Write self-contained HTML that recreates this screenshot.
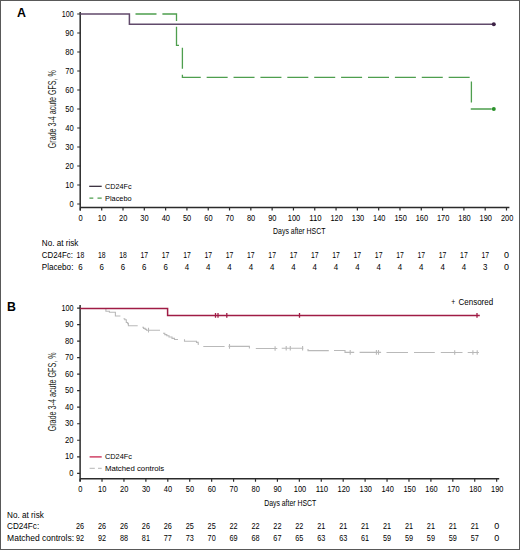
<!DOCTYPE html>
<html><head><meta charset="utf-8"><style>
html,body{margin:0;padding:0;background:#fff;}
body{width:520px;height:550px;overflow:hidden;}
svg{display:block;font-family:"Liberation Sans", sans-serif;}
</style></head><body>
<svg width="520" height="550" viewBox="0 0 520 550" font-family='"Liberation Sans", sans-serif'>
<rect x="0" y="0" width="520" height="550" fill="#fff"/>
<rect x="0.5" y="0.5" width="519" height="549" fill="none" stroke="#595959" stroke-width="1"/>
<text x="16.90" y="16.80" font-size="12.4" font-weight="bold" fill="#000">A</text>
<path d="M80.2,12 V210.5 M80.2,207.5 H509.4" stroke="#2b2b2b" stroke-width="1.5" fill="none"/>
<path d="M77.2,204.00 H80.2 M77.2,185.00 H80.2 M77.2,166.00 H80.2 M77.2,147.00 H80.2 M77.2,128.00 H80.2 M77.2,109.00 H80.2 M77.2,90.00 H80.2 M77.2,71.00 H80.2 M77.2,52.00 H80.2 M77.2,33.00 H80.2 M77.2,14.00 H80.2 M80.40,207.5 V210.5 M101.71,207.5 V210.5 M123.01,207.5 V210.5 M144.31,207.5 V210.5 M165.62,207.5 V210.5 M186.93,207.5 V210.5 M208.23,207.5 V210.5 M229.53,207.5 V210.5 M250.84,207.5 V210.5 M272.14,207.5 V210.5 M293.45,207.5 V210.5 M314.75,207.5 V210.5 M336.06,207.5 V210.5 M357.37,207.5 V210.5 M378.67,207.5 V210.5 M399.98,207.5 V210.5 M421.28,207.5 V210.5 M442.59,207.5 V210.5 M463.89,207.5 V210.5 M485.20,207.5 V210.5 M506.50,207.5 V210.5 " stroke="#2b2b2b" stroke-width="1.2" fill="none"/>
<text x="73.80" y="207.10" font-size="9.0" text-anchor="end" textLength="4.20" lengthAdjust="spacingAndGlyphs">0</text>
<text x="73.80" y="188.10" font-size="9.0" text-anchor="end" textLength="8.50" lengthAdjust="spacingAndGlyphs">10</text>
<text x="73.80" y="169.10" font-size="9.0" text-anchor="end" textLength="8.50" lengthAdjust="spacingAndGlyphs">20</text>
<text x="73.80" y="150.10" font-size="9.0" text-anchor="end" textLength="8.50" lengthAdjust="spacingAndGlyphs">30</text>
<text x="73.80" y="131.10" font-size="9.0" text-anchor="end" textLength="8.50" lengthAdjust="spacingAndGlyphs">40</text>
<text x="73.80" y="112.10" font-size="9.0" text-anchor="end" textLength="8.50" lengthAdjust="spacingAndGlyphs">50</text>
<text x="73.80" y="93.10" font-size="9.0" text-anchor="end" textLength="8.50" lengthAdjust="spacingAndGlyphs">60</text>
<text x="73.80" y="74.10" font-size="9.0" text-anchor="end" textLength="8.50" lengthAdjust="spacingAndGlyphs">70</text>
<text x="73.80" y="55.10" font-size="9.0" text-anchor="end" textLength="8.50" lengthAdjust="spacingAndGlyphs">80</text>
<text x="73.80" y="36.10" font-size="9.0" text-anchor="end" textLength="8.50" lengthAdjust="spacingAndGlyphs">90</text>
<text x="73.80" y="17.10" font-size="9.0" text-anchor="end" textLength="12.00" lengthAdjust="spacingAndGlyphs">100</text>
<text x="80.60" y="220.60" font-size="9.0" text-anchor="middle" textLength="4.20" lengthAdjust="spacingAndGlyphs">0</text>
<text x="101.91" y="220.60" font-size="9.0" text-anchor="middle" textLength="8.30" lengthAdjust="spacingAndGlyphs">10</text>
<text x="123.21" y="220.60" font-size="9.0" text-anchor="middle" textLength="8.30" lengthAdjust="spacingAndGlyphs">20</text>
<text x="144.51" y="220.60" font-size="9.0" text-anchor="middle" textLength="8.30" lengthAdjust="spacingAndGlyphs">30</text>
<text x="165.82" y="220.60" font-size="9.0" text-anchor="middle" textLength="8.30" lengthAdjust="spacingAndGlyphs">40</text>
<text x="187.12" y="220.60" font-size="9.0" text-anchor="middle" textLength="8.30" lengthAdjust="spacingAndGlyphs">50</text>
<text x="208.43" y="220.60" font-size="9.0" text-anchor="middle" textLength="8.30" lengthAdjust="spacingAndGlyphs">60</text>
<text x="229.73" y="220.60" font-size="9.0" text-anchor="middle" textLength="8.30" lengthAdjust="spacingAndGlyphs">70</text>
<text x="251.04" y="220.60" font-size="9.0" text-anchor="middle" textLength="8.30" lengthAdjust="spacingAndGlyphs">80</text>
<text x="272.34" y="220.60" font-size="9.0" text-anchor="middle" textLength="8.30" lengthAdjust="spacingAndGlyphs">90</text>
<text x="294.05" y="220.60" font-size="9.0" text-anchor="middle" textLength="12.40" lengthAdjust="spacingAndGlyphs">100</text>
<text x="315.36" y="220.60" font-size="9.0" text-anchor="middle" textLength="12.40" lengthAdjust="spacingAndGlyphs">110</text>
<text x="336.66" y="220.60" font-size="9.0" text-anchor="middle" textLength="12.40" lengthAdjust="spacingAndGlyphs">120</text>
<text x="357.97" y="220.60" font-size="9.0" text-anchor="middle" textLength="12.40" lengthAdjust="spacingAndGlyphs">130</text>
<text x="379.27" y="220.60" font-size="9.0" text-anchor="middle" textLength="12.40" lengthAdjust="spacingAndGlyphs">140</text>
<text x="400.58" y="220.60" font-size="9.0" text-anchor="middle" textLength="12.40" lengthAdjust="spacingAndGlyphs">150</text>
<text x="421.88" y="220.60" font-size="9.0" text-anchor="middle" textLength="12.40" lengthAdjust="spacingAndGlyphs">160</text>
<text x="443.19" y="220.60" font-size="9.0" text-anchor="middle" textLength="12.40" lengthAdjust="spacingAndGlyphs">170</text>
<text x="464.49" y="220.60" font-size="9.0" text-anchor="middle" textLength="12.40" lengthAdjust="spacingAndGlyphs">180</text>
<text x="485.80" y="220.60" font-size="9.0" text-anchor="middle" textLength="12.40" lengthAdjust="spacingAndGlyphs">190</text>
<text x="507.10" y="220.60" font-size="9.0" text-anchor="middle" textLength="12.40" lengthAdjust="spacingAndGlyphs">200</text>
<text x="273.10" y="234.00" font-size="9.8" textLength="52.30" lengthAdjust="spacingAndGlyphs">Days after HSCT</text>
<text transform="translate(55.9,148.15) rotate(-90)" x="0" y="0" font-size="10" textLength="78" lengthAdjust="spacingAndGlyphs" fill="#231f20">Grade 3-4 acute GFS, %</text>
<path d="M130,14 H176.5 V45.3 H182.4 V77.3 H471.4 V109 H493.8" stroke="#4e9e4e" stroke-width="1.3" fill="none" stroke-dasharray="21 5.89" stroke-dashoffset="21.39"/>
<path d="M80.2,14 H129.4 V24.2 H493.8" stroke="#614a6b" stroke-width="1.5" fill="none"/>
<circle cx="493.8" cy="24.2" r="2" fill="#3d2347"/>
<circle cx="493.8" cy="109" r="2" fill="#2a922a"/>
<path d="M89.2,186.3 H101.7" stroke="#2a1f2e" stroke-width="1.2"/>
<path d="M89.4,198.1 H93.3 M97.5,198.1 H101.7" stroke="#4e9e4e" stroke-width="1.2"/>
<text x="105.10" y="189.30" font-size="7.8" textLength="26.50" lengthAdjust="spacingAndGlyphs">CD24Fc</text>
<text x="105.10" y="201.00" font-size="7.8" textLength="26.50" lengthAdjust="spacingAndGlyphs">Placebo</text>
<text x="41.80" y="246.00" font-size="9.0" textLength="36.60" lengthAdjust="spacingAndGlyphs">No. at risk</text>
<text x="41.80" y="257.60" font-size="9.0" textLength="31.20" lengthAdjust="spacingAndGlyphs">CD24Fc:</text>
<text x="41.80" y="269.50" font-size="9.0" textLength="31.60" lengthAdjust="spacingAndGlyphs">Placebo:</text>
<text x="80.40" y="257.60" font-size="9.0" text-anchor="middle" textLength="7.60" lengthAdjust="spacingAndGlyphs">18</text>
<text x="80.40" y="269.50" font-size="9.0" text-anchor="middle" textLength="4.40" lengthAdjust="spacingAndGlyphs">6</text>
<text x="101.71" y="257.60" font-size="9.0" text-anchor="middle" textLength="7.60" lengthAdjust="spacingAndGlyphs">18</text>
<text x="101.71" y="269.50" font-size="9.0" text-anchor="middle" textLength="4.40" lengthAdjust="spacingAndGlyphs">6</text>
<text x="123.01" y="257.60" font-size="9.0" text-anchor="middle" textLength="7.60" lengthAdjust="spacingAndGlyphs">18</text>
<text x="123.01" y="269.50" font-size="9.0" text-anchor="middle" textLength="4.40" lengthAdjust="spacingAndGlyphs">6</text>
<text x="144.31" y="257.60" font-size="9.0" text-anchor="middle" textLength="7.60" lengthAdjust="spacingAndGlyphs">17</text>
<text x="144.31" y="269.50" font-size="9.0" text-anchor="middle" textLength="4.40" lengthAdjust="spacingAndGlyphs">6</text>
<text x="165.62" y="257.60" font-size="9.0" text-anchor="middle" textLength="7.60" lengthAdjust="spacingAndGlyphs">17</text>
<text x="165.62" y="269.50" font-size="9.0" text-anchor="middle" textLength="4.40" lengthAdjust="spacingAndGlyphs">6</text>
<text x="186.93" y="257.60" font-size="9.0" text-anchor="middle" textLength="7.60" lengthAdjust="spacingAndGlyphs">17</text>
<text x="186.93" y="269.50" font-size="9.0" text-anchor="middle" textLength="4.40" lengthAdjust="spacingAndGlyphs">4</text>
<text x="208.23" y="257.60" font-size="9.0" text-anchor="middle" textLength="7.60" lengthAdjust="spacingAndGlyphs">17</text>
<text x="208.23" y="269.50" font-size="9.0" text-anchor="middle" textLength="4.40" lengthAdjust="spacingAndGlyphs">4</text>
<text x="229.53" y="257.60" font-size="9.0" text-anchor="middle" textLength="7.60" lengthAdjust="spacingAndGlyphs">17</text>
<text x="229.53" y="269.50" font-size="9.0" text-anchor="middle" textLength="4.40" lengthAdjust="spacingAndGlyphs">4</text>
<text x="250.84" y="257.60" font-size="9.0" text-anchor="middle" textLength="7.60" lengthAdjust="spacingAndGlyphs">17</text>
<text x="250.84" y="269.50" font-size="9.0" text-anchor="middle" textLength="4.40" lengthAdjust="spacingAndGlyphs">4</text>
<text x="272.14" y="257.60" font-size="9.0" text-anchor="middle" textLength="7.60" lengthAdjust="spacingAndGlyphs">17</text>
<text x="272.14" y="269.50" font-size="9.0" text-anchor="middle" textLength="4.40" lengthAdjust="spacingAndGlyphs">4</text>
<text x="293.45" y="257.60" font-size="9.0" text-anchor="middle" textLength="7.60" lengthAdjust="spacingAndGlyphs">17</text>
<text x="293.45" y="269.50" font-size="9.0" text-anchor="middle" textLength="4.40" lengthAdjust="spacingAndGlyphs">4</text>
<text x="314.75" y="257.60" font-size="9.0" text-anchor="middle" textLength="7.60" lengthAdjust="spacingAndGlyphs">17</text>
<text x="314.75" y="269.50" font-size="9.0" text-anchor="middle" textLength="4.40" lengthAdjust="spacingAndGlyphs">4</text>
<text x="336.06" y="257.60" font-size="9.0" text-anchor="middle" textLength="7.60" lengthAdjust="spacingAndGlyphs">17</text>
<text x="336.06" y="269.50" font-size="9.0" text-anchor="middle" textLength="4.40" lengthAdjust="spacingAndGlyphs">4</text>
<text x="357.37" y="257.60" font-size="9.0" text-anchor="middle" textLength="7.60" lengthAdjust="spacingAndGlyphs">17</text>
<text x="357.37" y="269.50" font-size="9.0" text-anchor="middle" textLength="4.40" lengthAdjust="spacingAndGlyphs">4</text>
<text x="378.67" y="257.60" font-size="9.0" text-anchor="middle" textLength="7.60" lengthAdjust="spacingAndGlyphs">17</text>
<text x="378.67" y="269.50" font-size="9.0" text-anchor="middle" textLength="4.40" lengthAdjust="spacingAndGlyphs">4</text>
<text x="399.98" y="257.60" font-size="9.0" text-anchor="middle" textLength="7.60" lengthAdjust="spacingAndGlyphs">17</text>
<text x="399.98" y="269.50" font-size="9.0" text-anchor="middle" textLength="4.40" lengthAdjust="spacingAndGlyphs">4</text>
<text x="421.28" y="257.60" font-size="9.0" text-anchor="middle" textLength="7.60" lengthAdjust="spacingAndGlyphs">17</text>
<text x="421.28" y="269.50" font-size="9.0" text-anchor="middle" textLength="4.40" lengthAdjust="spacingAndGlyphs">4</text>
<text x="442.59" y="257.60" font-size="9.0" text-anchor="middle" textLength="7.60" lengthAdjust="spacingAndGlyphs">17</text>
<text x="442.59" y="269.50" font-size="9.0" text-anchor="middle" textLength="4.40" lengthAdjust="spacingAndGlyphs">4</text>
<text x="463.89" y="257.60" font-size="9.0" text-anchor="middle" textLength="7.60" lengthAdjust="spacingAndGlyphs">17</text>
<text x="463.89" y="269.50" font-size="9.0" text-anchor="middle" textLength="4.40" lengthAdjust="spacingAndGlyphs">4</text>
<text x="485.20" y="257.60" font-size="9.0" text-anchor="middle" textLength="7.60" lengthAdjust="spacingAndGlyphs">17</text>
<text x="485.20" y="269.50" font-size="9.0" text-anchor="middle" textLength="4.40" lengthAdjust="spacingAndGlyphs">3</text>
<text x="506.50" y="257.60" font-size="9.0" text-anchor="middle" textLength="5.00" lengthAdjust="spacingAndGlyphs">0</text>
<text x="506.50" y="269.50" font-size="9.0" text-anchor="middle" textLength="5.00" lengthAdjust="spacingAndGlyphs">0</text>
<text x="6.90" y="310.50" font-size="12.3" font-weight="bold" fill="#000">B</text>
<path d="M80.1,305 V481.5 M80.1,478.8 H499.2" stroke="#2b2b2b" stroke-width="1.5" fill="none"/>
<path d="M77.1,473.30 H80.1 M77.1,456.78 H80.1 M77.1,440.26 H80.1 M77.1,423.74 H80.1 M77.1,407.22 H80.1 M77.1,390.70 H80.1 M77.1,374.18 H80.1 M77.1,357.66 H80.1 M77.1,341.14 H80.1 M77.1,324.62 H80.1 M77.1,308.10 H80.1 M80.10,478.8 V481.8 M102.02,478.8 V481.8 M123.95,478.8 V481.8 M145.88,478.8 V481.8 M167.80,478.8 V481.8 M189.72,478.8 V481.8 M211.65,478.8 V481.8 M233.57,478.8 V481.8 M255.50,478.8 V481.8 M277.42,478.8 V481.8 M299.35,478.8 V481.8 M321.27,478.8 V481.8 M343.20,478.8 V481.8 M365.12,478.8 V481.8 M387.05,478.8 V481.8 M408.98,478.8 V481.8 M430.90,478.8 V481.8 M452.82,478.8 V481.8 M474.75,478.8 V481.8 M496.67,478.8 V481.8 " stroke="#2b2b2b" stroke-width="1.2" fill="none"/>
<text x="73.50" y="475.70" font-size="9.0" text-anchor="end" textLength="4.20" lengthAdjust="spacingAndGlyphs">0</text>
<text x="73.50" y="459.18" font-size="9.0" text-anchor="end" textLength="8.50" lengthAdjust="spacingAndGlyphs">10</text>
<text x="73.50" y="442.66" font-size="9.0" text-anchor="end" textLength="8.50" lengthAdjust="spacingAndGlyphs">20</text>
<text x="73.50" y="426.14" font-size="9.0" text-anchor="end" textLength="8.50" lengthAdjust="spacingAndGlyphs">30</text>
<text x="73.50" y="409.62" font-size="9.0" text-anchor="end" textLength="8.50" lengthAdjust="spacingAndGlyphs">40</text>
<text x="73.50" y="393.10" font-size="9.0" text-anchor="end" textLength="8.50" lengthAdjust="spacingAndGlyphs">50</text>
<text x="73.50" y="376.58" font-size="9.0" text-anchor="end" textLength="8.50" lengthAdjust="spacingAndGlyphs">60</text>
<text x="73.50" y="360.06" font-size="9.0" text-anchor="end" textLength="8.50" lengthAdjust="spacingAndGlyphs">70</text>
<text x="73.50" y="343.54" font-size="9.0" text-anchor="end" textLength="8.50" lengthAdjust="spacingAndGlyphs">80</text>
<text x="73.50" y="327.02" font-size="9.0" text-anchor="end" textLength="8.50" lengthAdjust="spacingAndGlyphs">90</text>
<text x="73.50" y="310.50" font-size="9.0" text-anchor="end" textLength="12.10" lengthAdjust="spacingAndGlyphs">100</text>
<text x="80.30" y="491.70" font-size="9.0" text-anchor="middle" textLength="4.20" lengthAdjust="spacingAndGlyphs">0</text>
<text x="102.22" y="491.70" font-size="9.0" text-anchor="middle" textLength="8.30" lengthAdjust="spacingAndGlyphs">10</text>
<text x="124.15" y="491.70" font-size="9.0" text-anchor="middle" textLength="8.30" lengthAdjust="spacingAndGlyphs">20</text>
<text x="146.07" y="491.70" font-size="9.0" text-anchor="middle" textLength="8.30" lengthAdjust="spacingAndGlyphs">30</text>
<text x="168.00" y="491.70" font-size="9.0" text-anchor="middle" textLength="8.30" lengthAdjust="spacingAndGlyphs">40</text>
<text x="189.92" y="491.70" font-size="9.0" text-anchor="middle" textLength="8.30" lengthAdjust="spacingAndGlyphs">50</text>
<text x="211.85" y="491.70" font-size="9.0" text-anchor="middle" textLength="8.30" lengthAdjust="spacingAndGlyphs">60</text>
<text x="233.77" y="491.70" font-size="9.0" text-anchor="middle" textLength="8.30" lengthAdjust="spacingAndGlyphs">70</text>
<text x="255.70" y="491.70" font-size="9.0" text-anchor="middle" textLength="8.30" lengthAdjust="spacingAndGlyphs">80</text>
<text x="277.62" y="491.70" font-size="9.0" text-anchor="middle" textLength="8.30" lengthAdjust="spacingAndGlyphs">90</text>
<text x="299.95" y="491.70" font-size="9.0" text-anchor="middle" textLength="12.40" lengthAdjust="spacingAndGlyphs">100</text>
<text x="321.88" y="491.70" font-size="9.0" text-anchor="middle" textLength="12.40" lengthAdjust="spacingAndGlyphs">110</text>
<text x="343.80" y="491.70" font-size="9.0" text-anchor="middle" textLength="12.40" lengthAdjust="spacingAndGlyphs">120</text>
<text x="365.73" y="491.70" font-size="9.0" text-anchor="middle" textLength="12.40" lengthAdjust="spacingAndGlyphs">130</text>
<text x="387.65" y="491.70" font-size="9.0" text-anchor="middle" textLength="12.40" lengthAdjust="spacingAndGlyphs">140</text>
<text x="409.58" y="491.70" font-size="9.0" text-anchor="middle" textLength="12.40" lengthAdjust="spacingAndGlyphs">150</text>
<text x="431.50" y="491.70" font-size="9.0" text-anchor="middle" textLength="12.40" lengthAdjust="spacingAndGlyphs">160</text>
<text x="453.42" y="491.70" font-size="9.0" text-anchor="middle" textLength="12.40" lengthAdjust="spacingAndGlyphs">170</text>
<text x="475.35" y="491.70" font-size="9.0" text-anchor="middle" textLength="12.40" lengthAdjust="spacingAndGlyphs">180</text>
<text x="497.27" y="491.70" font-size="9.0" text-anchor="middle" textLength="12.40" lengthAdjust="spacingAndGlyphs">190</text>
<text x="264.20" y="505.70" font-size="9.8" textLength="52.00" lengthAdjust="spacingAndGlyphs">Days after HSCT</text>
<text transform="translate(55.9,431.35) rotate(-90)" x="0" y="0" font-size="10" textLength="79" lengthAdjust="spacingAndGlyphs" fill="#231f20">Grade 3-4 acute GFS, %</text>
<path d="M105.9,308.6 V311.2 H109.4 V312.2 H115.4 V316.0 H120.4 M123.5,318.8 H124.8 V319.8 H126.3 V322.5 H127.7 V323.6 H128.4 V325.7 H137.7 M142.3,327.3 H143.5 V328.4 H145.2 V329.4 H146.5 V330.2 H160.0 M163.0,333.3 H164.8 V334.6 H166.8 V335.8 H169.0 V337.0 H172.0 V338.4 H174.5 V339.5 H178.0 M184.5,339.3 V341.3 H196.5 V342.4 H198.2 V344.3 H199.0 M203.3,346.5 H224.6 M228.5,346.4 H249.4 V348.5 M255.8,348.5 H277.3 M281.7,348.3 H303.3 M308.0,349.0 V350.6 H328.8 M334.0,350.5 H345.0 V352.4 H354.2 M359.6,352.4 H381.1 M386.5,352.5 H408.0 M414.0,352.5 H434.8 M440.8,352.5 H462.5 M467.7,352.5 H478.9" stroke="#b9b9b9" stroke-width="1.1" fill="none"/>
<path d="M148.5,327.8 V332.4 M229.5,344.1 V348.7 M275.1,346.2 V350.8 M286.2,346.0 V350.6 M290.3,346.0 V350.6 M302.6,346.0 V350.6 M350.2,350.1 V354.7 M376.4,350.1 V354.7 M378.5,350.1 V354.7 M454.7,350.2 V354.8 M472.9,350.2 V354.8 M477.2,350.2 V354.8 " stroke="#b9b9b9" stroke-width="1.1" fill="none"/>
<path d="M80.1,308.5 H167.6 V315.4 H479.8" stroke="#a01c45" stroke-width="1.5" fill="none"/>
<path d="M215.5,313.0 V317.8 M218.0,313.0 V317.8 M226.8,313.0 V317.8 M299.5,313.0 V317.8 M477.0,313.0 V317.8 " stroke="#a01c45" stroke-width="1.3" fill="none"/>
<path d="M89.6,456.9 H101.7" stroke="#c8264f" stroke-width="1.3"/>
<path d="M89.6,468.3 H94.8 M98.0,468.3 H101.7" stroke="#c4c4c4" stroke-width="1.2"/>
<text x="104.90" y="459.10" font-size="7.8" textLength="27.10" lengthAdjust="spacingAndGlyphs">CD24Fc</text>
<text x="104.90" y="471.00" font-size="7.8" textLength="59.30" lengthAdjust="spacingAndGlyphs">Matched controls</text>
<text x="451.30" y="305.00" font-size="8.5" textLength="4.00" lengthAdjust="spacingAndGlyphs">+</text>
<text x="458.50" y="305.00" font-size="8.6" textLength="34.60" lengthAdjust="spacingAndGlyphs">Censored</text>
<text x="7.10" y="517.50" font-size="9.0" textLength="36.70" lengthAdjust="spacingAndGlyphs">No. at risk</text>
<text x="7.00" y="529.20" font-size="9.0" textLength="32.20" lengthAdjust="spacingAndGlyphs">CD24Fc:</text>
<text x="7.10" y="541.10" font-size="9.0" textLength="67.00" lengthAdjust="spacingAndGlyphs">Matched controls:</text>
<text x="80.10" y="529.30" font-size="9.0" text-anchor="middle" textLength="8.10" lengthAdjust="spacingAndGlyphs">26</text>
<text x="80.10" y="541.20" font-size="9.0" text-anchor="middle" textLength="8.10" lengthAdjust="spacingAndGlyphs">92</text>
<text x="102.02" y="529.30" font-size="9.0" text-anchor="middle" textLength="8.10" lengthAdjust="spacingAndGlyphs">26</text>
<text x="102.02" y="541.20" font-size="9.0" text-anchor="middle" textLength="8.10" lengthAdjust="spacingAndGlyphs">92</text>
<text x="123.95" y="529.30" font-size="9.0" text-anchor="middle" textLength="8.10" lengthAdjust="spacingAndGlyphs">26</text>
<text x="123.95" y="541.20" font-size="9.0" text-anchor="middle" textLength="8.10" lengthAdjust="spacingAndGlyphs">88</text>
<text x="145.88" y="529.30" font-size="9.0" text-anchor="middle" textLength="8.10" lengthAdjust="spacingAndGlyphs">26</text>
<text x="145.88" y="541.20" font-size="9.0" text-anchor="middle" textLength="8.10" lengthAdjust="spacingAndGlyphs">81</text>
<text x="167.80" y="529.30" font-size="9.0" text-anchor="middle" textLength="8.10" lengthAdjust="spacingAndGlyphs">26</text>
<text x="167.80" y="541.20" font-size="9.0" text-anchor="middle" textLength="8.10" lengthAdjust="spacingAndGlyphs">77</text>
<text x="189.72" y="529.30" font-size="9.0" text-anchor="middle" textLength="8.10" lengthAdjust="spacingAndGlyphs">25</text>
<text x="189.72" y="541.20" font-size="9.0" text-anchor="middle" textLength="8.10" lengthAdjust="spacingAndGlyphs">73</text>
<text x="211.65" y="529.30" font-size="9.0" text-anchor="middle" textLength="8.10" lengthAdjust="spacingAndGlyphs">25</text>
<text x="211.65" y="541.20" font-size="9.0" text-anchor="middle" textLength="8.10" lengthAdjust="spacingAndGlyphs">70</text>
<text x="233.57" y="529.30" font-size="9.0" text-anchor="middle" textLength="8.10" lengthAdjust="spacingAndGlyphs">22</text>
<text x="233.57" y="541.20" font-size="9.0" text-anchor="middle" textLength="8.10" lengthAdjust="spacingAndGlyphs">69</text>
<text x="255.50" y="529.30" font-size="9.0" text-anchor="middle" textLength="8.10" lengthAdjust="spacingAndGlyphs">22</text>
<text x="255.50" y="541.20" font-size="9.0" text-anchor="middle" textLength="8.10" lengthAdjust="spacingAndGlyphs">68</text>
<text x="277.42" y="529.30" font-size="9.0" text-anchor="middle" textLength="8.10" lengthAdjust="spacingAndGlyphs">22</text>
<text x="277.42" y="541.20" font-size="9.0" text-anchor="middle" textLength="8.10" lengthAdjust="spacingAndGlyphs">67</text>
<text x="299.35" y="529.30" font-size="9.0" text-anchor="middle" textLength="8.10" lengthAdjust="spacingAndGlyphs">22</text>
<text x="299.35" y="541.20" font-size="9.0" text-anchor="middle" textLength="8.10" lengthAdjust="spacingAndGlyphs">65</text>
<text x="321.27" y="529.30" font-size="9.0" text-anchor="middle" textLength="8.10" lengthAdjust="spacingAndGlyphs">21</text>
<text x="321.27" y="541.20" font-size="9.0" text-anchor="middle" textLength="8.10" lengthAdjust="spacingAndGlyphs">63</text>
<text x="343.20" y="529.30" font-size="9.0" text-anchor="middle" textLength="8.10" lengthAdjust="spacingAndGlyphs">21</text>
<text x="343.20" y="541.20" font-size="9.0" text-anchor="middle" textLength="8.10" lengthAdjust="spacingAndGlyphs">63</text>
<text x="365.12" y="529.30" font-size="9.0" text-anchor="middle" textLength="8.10" lengthAdjust="spacingAndGlyphs">21</text>
<text x="365.12" y="541.20" font-size="9.0" text-anchor="middle" textLength="8.10" lengthAdjust="spacingAndGlyphs">61</text>
<text x="387.05" y="529.30" font-size="9.0" text-anchor="middle" textLength="8.10" lengthAdjust="spacingAndGlyphs">21</text>
<text x="387.05" y="541.20" font-size="9.0" text-anchor="middle" textLength="8.10" lengthAdjust="spacingAndGlyphs">59</text>
<text x="408.98" y="529.30" font-size="9.0" text-anchor="middle" textLength="8.10" lengthAdjust="spacingAndGlyphs">21</text>
<text x="408.98" y="541.20" font-size="9.0" text-anchor="middle" textLength="8.10" lengthAdjust="spacingAndGlyphs">59</text>
<text x="430.90" y="529.30" font-size="9.0" text-anchor="middle" textLength="8.10" lengthAdjust="spacingAndGlyphs">21</text>
<text x="430.90" y="541.20" font-size="9.0" text-anchor="middle" textLength="8.10" lengthAdjust="spacingAndGlyphs">59</text>
<text x="452.82" y="529.30" font-size="9.0" text-anchor="middle" textLength="8.10" lengthAdjust="spacingAndGlyphs">21</text>
<text x="452.82" y="541.20" font-size="9.0" text-anchor="middle" textLength="8.10" lengthAdjust="spacingAndGlyphs">59</text>
<text x="474.75" y="529.30" font-size="9.0" text-anchor="middle" textLength="8.10" lengthAdjust="spacingAndGlyphs">21</text>
<text x="474.75" y="541.20" font-size="9.0" text-anchor="middle" textLength="8.10" lengthAdjust="spacingAndGlyphs">57</text>
<text x="496.67" y="529.30" font-size="9.0" text-anchor="middle" textLength="5.00" lengthAdjust="spacingAndGlyphs">0</text>
<text x="496.67" y="541.20" font-size="9.0" text-anchor="middle" textLength="5.00" lengthAdjust="spacingAndGlyphs">0</text>
</svg>
</body></html>
